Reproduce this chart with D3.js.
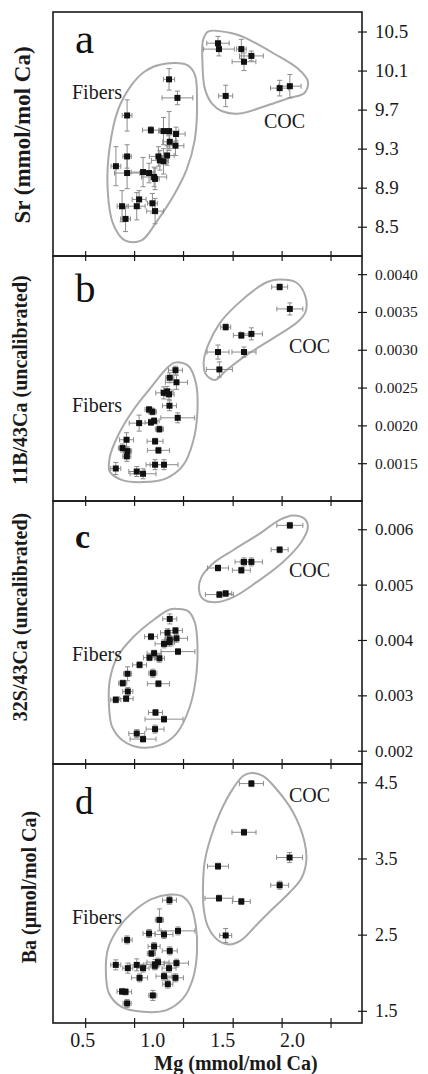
<!DOCTYPE html>
<html>
<head>
<meta charset="utf-8">
<script src="https://cdn.jsdelivr.net/npm/d3@7"></script>
<style>
  body { margin: 0; background: #fff; }
  text { font-family: "Liberation Serif", "Times New Roman", serif; }
</style>
</head>
<body>
<div id="chart"></div>
<script>
// ---- data ----
// x axis (Mg, mmol/mol Ca)
var xTickMarks = [0.52, 0.87, 1.22, 1.575, 1.925, 2.275];
var xLabels = [0.5, 1.0, 1.5, 2.0];

// panel a : Sr
var aTicks = [8.5, 8.9, 9.3, 9.7, 10.1, 10.5];
var aMg = [1.12,1.18,0.82,0.99,1.08,1.12,1.17,1.125,1.166,0.82,0.74,1.044,1.106,1.054,1.08,0.82,0.934,0.977,1.013,1.02,0.906,0.784,0.889,1.001,1.02,0.809,1.47,1.477,1.637,1.709,1.656,1.525,1.911,1.984];
var aSr = [10.01,9.82,9.64,9.49,9.48,9.48,9.45,9.37,9.33,9.22,9.12,9.22,9.23,9.18,9.17,9.05,9.06,9.05,9.01,8.99,8.78,8.71,8.71,8.74,8.66,8.58,10.38,10.32,10.32,10.25,10.19,9.84,9.92,9.94];
var aMgErr = [0.04,0.11,0.035,0.06,0.035,0.07,0.065,0.05,0.06,0.03,0.035,0.065,0.05,0.06,0.035,0.09,0.085,0.035,0.09,0.03,0.05,0.035,0.06,0.035,0.06,0.035,0.08,0.11,0.035,0.085,0.085,0.05,0.065,0.08];
var aSrErr = [0.11,0.07,0.16,0.035,0.14,0.2,0.07,0.07,0.1,0.12,0.2,0.1,0.1,0.1,0.13,0.16,0.15,0.1,0.1,0.11,0.09,0.16,0.14,0.1,0.13,0.13,0.07,0.07,0.1,0.05,0.09,0.11,0.08,0.12];
var aFiberHull = [[1.054,10.16],[1.244,10.16],[1.304,10.06],[1.32,9.80],[1.304,9.39],[1.244,9.08],[1.149,8.81],[1.03,8.55],[0.923,8.36],[0.804,8.36],[0.72,8.53],[0.68,8.91],[0.696,9.32],[0.756,9.70],[0.851,9.95],[0.946,10.09]];
var aCocHull = [[1.399,10.5],[1.577,10.48],[1.673,10.43],[1.863,10.28],[2.041,10.12],[2.113,9.99],[2.089,9.87],[1.982,9.82],[1.816,9.74],[1.625,9.66],[1.506,9.68],[1.423,9.77],[1.375,9.92],[1.359,10.18],[1.363,10.41]];

// panel b : 11B/43Ca
var bTicks = [0.0015, 0.0020, 0.0025, 0.0030, 0.0035, 0.0040];
var bMg = [1.911,1.984,1.525,1.637,1.709,1.47,1.656,1.48,1.166,1.125,1.173,1.082,1.106,1.12,1.123,1.182,0.977,1.001,0.906,0.991,1.013,1.051,0.816,0.787,0.823,0.818,1.02,1.044,0.739,0.889,0.934,1.02,1.084];
var bB = [0.00383,0.00354,0.0033,0.00319,0.00321,0.00297,0.00297,0.00274,0.00273,0.00263,0.00257,0.00243,0.00245,0.00241,0.00226,0.0021,0.00221,0.00218,0.00203,0.00204,0.00206,0.00195,0.00181,0.0017,0.00166,0.00159,0.00179,0.00167,0.00143,0.00139,0.00136,0.00148,0.00148];
var bMgErr = [0.057,0.093,0.036,0.057,0.079,0.079,0.086,0.093,0.05,0.029,0.079,0.057,0.043,0.036,0.05,0.121,0.029,0.029,0.071,0.043,0.036,0.029,0.05,0.029,0.029,0.029,0.057,0.079,0.036,0.057,0.093,0.064,0.1];
var bBErr = [0.00004,0.00008,0.00004,0.00004,0.00008,0.000093,0.000066,0.0001,0.000053,0.000066,0.000093,0.00008,0.000066,0.000066,0.000066,0.000066,0.00004,0.00004,0.000106,0.00004,0.00004,0.00004,0.000093,0.000053,0.000053,0.000066,0.00004,0.00004,0.00008,0.000066,0.000066,0.000066,0.000066];
var bFiberHull = [[1.161,0.00283],[1.256,0.00279],[1.311,0.00257],[1.323,0.00218],[1.291,0.00178],[1.22,0.00147],[1.101,0.0013],[0.934,0.00125],[0.78,0.00128],[0.696,0.00139],[0.696,0.00158],[0.756,0.00187],[0.863,0.0022],[0.994,0.00251],[1.101,0.00275]];
var bCocHull = [[1.911,0.00393],[2.03,0.00389],[2.096,0.0037],[2.096,0.0035],[2.041,0.00337],[1.863,0.00315],[1.673,0.00293],[1.53,0.00273],[1.446,0.0026],[1.382,0.00268],[1.368,0.00284],[1.399,0.00306],[1.482,0.00335],[1.601,0.00359],[1.744,0.00381],[1.827,0.0039]];

// panel c : 32S/43Ca
var cTicks = [0.002, 0.003, 0.004, 0.005, 0.006];
var cMg = [1.984,1.911,1.656,1.709,1.637,1.47,1.48,1.525,1.125,1.166,1.109,0.991,1.173,1.125,1.123,1.084,1.184,1.013,0.98,1.051,0.909,0.823,1.004,0.789,1.044,0.825,0.813,0.739,1.023,1.084,1.02,0.889,0.934];
var cS = [0.00607,0.00563,0.00541,0.00541,0.00526,0.0053,0.00482,0.00484,0.00438,0.00417,0.00413,0.00406,0.00403,0.00401,0.00396,0.00393,0.00379,0.00376,0.00368,0.00367,0.00355,0.00339,0.0034,0.00322,0.00321,0.00307,0.00294,0.00292,0.00269,0.00257,0.00239,0.00231,0.00221];
var cMgErr = [0.093,0.061,0.064,0.079,0.064,0.075,0.1,0.043,0.05,0.05,0.05,0.046,0.079,0.036,0.036,0.064,0.121,0.05,0.043,0.036,0.05,0.029,0.029,0.029,0.079,0.036,0.05,0.036,0.05,0.136,0.064,0.057,0.093];
var cSErr = [0.000054,0.000054,0.000072,0.000072,0.000054,0.000054,0.000054,0.000054,0.00009,0.000054,0.000072,0.000054,0.000072,0.000072,0.000072,0.000072,0.000054,0.000054,0.000054,0.000072,0.000054,0.000126,0.000072,0.000054,0.000054,0.000072,0.000054,0.000054,0.000054,0.000054,0.000072,0.000072,0.000054];
var cFiberHull = [[1.184,0.00456],[1.256,0.00452],[1.304,0.00432],[1.323,0.00393],[1.316,0.00339],[1.268,0.00279],[1.173,0.00231],[1.054,0.0021],[0.911,0.00206],[0.791,0.00218],[0.713,0.00243],[0.691,0.00279],[0.696,0.00327],[0.749,0.00369],[0.863,0.00405],[1.018,0.00438],[1.125,0.00455]];
var cCocHull = [[2.006,0.00625],[2.089,0.00619],[2.113,0.00604],[2.066,0.00577],[1.923,0.00538],[1.744,0.00504],[1.577,0.00477],[1.446,0.00468],[1.363,0.00474],[1.334,0.00491],[1.351,0.00513],[1.434,0.00538],[1.577,0.00562],[1.768,0.00592],[1.911,0.00617]];

// panel d : Ba
var dTicks = [1.5, 2.5, 3.5, 4.5];
var dMg = [1.709,1.656,1.982,1.47,1.911,1.477,1.637,1.525,1.123,1.051,0.82,0.977,1.084,1.184,1.013,0.994,1.125,0.739,0.825,0.889,0.934,1.02,1.041,1.018,1.12,1.173,0.909,1.084,1.166,1.111,0.784,0.809,1.004,0.82];
var dBa = [4.483,3.844,3.512,3.398,3.149,2.978,2.935,2.489,2.952,2.694,2.431,2.515,2.502,2.549,2.345,2.253,2.287,2.103,2.06,2.103,2.06,2.109,2.139,2.09,2.06,2.126,1.933,1.955,1.933,1.85,1.754,1.749,1.702,1.597];
var dMgErr = [0.086,0.086,0.093,0.075,0.064,0.1,0.064,0.043,0.05,0.029,0.036,0.043,0.064,0.121,0.043,0.029,0.054,0.036,0.036,0.05,0.043,0.064,0.079,0.029,0.05,0.086,0.057,0.057,0.057,0.036,0.036,0.043,0.029,0.029];
var dBaErr = [0.04,0.04,0.066,0.04,0.052,0.04,0.04,0.092,0.052,0.144,0.052,0.052,0.052,0.052,0.052,0.04,0.052,0.066,0.066,0.079,0.052,0.066,0.052,0.052,0.052,0.052,0.052,0.052,0.052,0.052,0.04,0.04,0.066,0.052];
var dFiberHull = [[1.125,3.027],[1.209,3.008],[1.273,2.886],[1.311,2.624],[1.32,2.274],[1.291,1.925],[1.22,1.662],[1.101,1.509],[0.934,1.487],[0.78,1.552],[0.691,1.728],[0.668,2.011],[0.684,2.318],[0.756,2.581],[0.863,2.799],[0.994,2.965]];
var dCocHull = [[1.709,4.622],[1.791,4.583],[1.875,4.438],[2.006,4.11],[2.089,3.717],[2.101,3.454],[2.066,3.237],[1.982,3.053],[1.863,2.843],[1.744,2.624],[1.637,2.427],[1.554,2.371],[1.47,2.427],[1.399,2.602],[1.368,2.843],[1.363,3.149],[1.375,3.454],[1.416,3.761],[1.487,4.11],[1.577,4.417],[1.649,4.583]];

// ---- layout ----
var width = 428, height = 1074;
var left = 53, right = 362;
var serif = '"Liberation Serif", "Times New Roman", serif';

var panels = [
  {letter: "a", lsize: 43, lbold: false, lx: 75, ly: 53, top: 12, bottom: 256, domain: [8.2, 10.7],
   ticks: aTicks, fmt: ".1f", tsize: 19, mg: aMg, v: aSr, mgErr: aMgErr, vErr: aSrErr,
   fibers: aFiberHull, coc: aCocHull, fib: [72, 99], cocPos: [264, 128],
   ylabel: "Sr (mmol/mol Ca)", yx: 30, ycy: 135, ysize: 23},
  {letter: "b", lsize: 41, lbold: false, lx: 75, ly: 302, top: 256, bottom: 501, domain: [0.0010, 0.00424],
   ticks: bTicks, fmt: ".4f", tsize: 15.5, mg: bMg, v: bB, mgErr: bMgErr, vErr: bBErr,
   fibers: bFiberHull, coc: bCocHull, fib: [72, 412], cocPos: [289, 353],
   ylabel: "11B/43Ca (uncalibrated)", yx: 27, ycy: 380, ysize: 20},
  {letter: "c", lsize: 34, lbold: true, lx: 75, ly: 548, top: 501, bottom: 764, domain: [0.00176, 0.00651],
   ticks: cTicks, fmt: ".3f", tsize: 17, mg: cMg, v: cS, mgErr: cMgErr, vErr: cSErr,
   fibers: cFiberHull, coc: cCocHull, fib: [72, 661], cocPos: [289, 577],
   ylabel: "32S/43Ca (uncalibrated)", yx: 27, ycy: 617, ysize: 20},
  {letter: "d", lsize: 37, lbold: false, lx: 75, ly: 814, top: 764, bottom: 1023, domain: [1.34, 4.74],
   ticks: dTicks, fmt: ".1f", tsize: 18, mg: dMg, v: dBa, mgErr: dMgErr, vErr: dBaErr,
   fibers: dFiberHull, coc: dCocHull, fib: [72, 924], cocPos: [289, 802],
   ylabel: "Ba (\u03bcmol/mol Ca)", yx: 36, ycy: 887, ysize: 20}
];

var svg = d3.select("#chart").append("svg")
    .attr("width", width)
    .attr("height", height);

var x = d3.scaleLinear().domain([0.29, 2.5]).range([left, right]);

panels.forEach(function(p) {
  var y = d3.scaleLinear().domain(p.domain).range([p.bottom, p.top]);
  var g = svg.append("g");

  // enclosing outlines
  var hull = d3.line()
      .x(function(d) { return x(d[0]); })
      .y(function(d) { return y(d[1]); })
      .curve(d3.curveCatmullRomClosed.alpha(0.5));
  [p.fibers, p.coc].forEach(function(h) {
    g.append("path")
      .attr("d", hull(h))
      .attr("fill", "none")
      .attr("stroke", "#a9a9a9")
      .attr("stroke-width", 2);
  });

  var pts = p.mg.map(function(m, i) {
    return {mg: m, v: p.v[i], ex: p.mgErr[i], ey: p.vErr[i]};
  });

  // error bars
  var eb = g.append("g").attr("stroke", "#8c8c8c").attr("stroke-width", 1).attr("fill", "none");
  var cap = 2.5;
  pts.forEach(function(d) {
    var cx = x(d.mg), cy = y(d.v);
    var x0 = x(d.mg - d.ex), x1 = x(d.mg + d.ex);
    var y0 = y(d.v - d.ey), y1 = y(d.v + d.ey);
    eb.append("path").attr("d",
      "M" + x0 + "," + cy + "H" + x1 +
      "M" + x0 + "," + (cy - cap) + "V" + (cy + cap) +
      "M" + x1 + "," + (cy - cap) + "V" + (cy + cap) +
      "M" + cx + "," + y0 + "V" + y1 +
      "M" + (cx - cap) + "," + y0 + "H" + (cx + cap) +
      "M" + (cx - cap) + "," + y1 + "H" + (cx + cap));
  });

  // square markers
  g.selectAll("rect.pt")
    .data(pts)
    .enter()
    .append("rect")
    .attr("class", "pt")
    .attr("x", function(d) { return x(d.mg) - 3; })
    .attr("y", function(d) { return y(d.v) - 3; })
    .attr("width", 6)
    .attr("height", 6)
    .attr("fill", "#111");

  // frame
  g.append("rect")
    .attr("x", left)
    .attr("y", p.top)
    .attr("width", right - left)
    .attr("height", p.bottom - p.top)
    .attr("fill", "none")
    .attr("stroke", "#1a1a1a")
    .attr("stroke-width", 1.6);

  // right axis
  var ax = svg.append("g")
    .attr("transform", "translate(" + right + ",0)")
    .call(d3.axisRight(y).tickValues(p.ticks).tickFormat(d3.format(p.fmt)).tickSize(5).tickPadding(8));
  ax.select(".domain").remove();
  ax.attr("font-family", serif).attr("font-size", p.tsize);
  ax.selectAll(".tick line").attr("x1", -4).attr("stroke", "#1a1a1a").attr("stroke-width", 1.2);
  ax.selectAll(".tick text").attr("fill", "#1a1a1a");

  // x tick marks on the lower edge of the panel
  var xt = svg.append("g")
    .attr("transform", "translate(0," + p.bottom + ")")
    .call(d3.axisBottom(x).tickValues(xTickMarks).tickSize(5).tickFormat(""));
  xt.select(".domain").remove();
  xt.selectAll(".tick line").attr("y1", -5).attr("stroke", "#1a1a1a").attr("stroke-width", 1.2);

  // panel letter
  svg.append("text")
    .attr("x", p.lx)
    .attr("y", p.ly)
    .style("font-size", p.lsize + "px")
    .style("font-weight", p.lbold ? "bold" : "normal")
    .attr("fill", "#111")
    .text(p.letter);

  svg.append("text")
    .attr("x", p.fib[0]).attr("y", p.fib[1])
    .style("font-size", "20px").attr("fill", "#1a1a1a")
    .text("Fibers");
  svg.append("text")
    .attr("x", p.cocPos[0]).attr("y", p.cocPos[1])
    .style("font-size", "20px").attr("fill", "#1a1a1a")
    .text("COC");

  // y label
  svg.append("text")
    .attr("transform", "translate(" + p.yx + "," + p.ycy + ") rotate(-90)")
    .attr("text-anchor", "middle")
    .style("font-size", p.ysize + "px")
    .style("font-weight", "bold")
    .attr("fill", "#1a1a1a")
    .text(p.ylabel);
});

// x tick labels
var xl = svg.append("g")
  .attr("transform", "translate(0,1023)")
  .call(d3.axisBottom(x).tickValues(xLabels).tickSize(0).tickPadding(9.5).tickFormat(d3.format(".1f")));
xl.select(".domain").remove();
xl.attr("font-family", serif).attr("font-size", 20);
xl.selectAll(".tick text").attr("fill", "#1a1a1a");

svg.append("text")
  .attr("x", 236)
  .attr("y", 1070)
  .attr("text-anchor", "middle")
  .style("font-size", "20px")
  .style("font-weight", "bold")
  .attr("fill", "#1a1a1a")
  .text("Mg (mmol/mol Ca)");
</script>
</body>
</html>
